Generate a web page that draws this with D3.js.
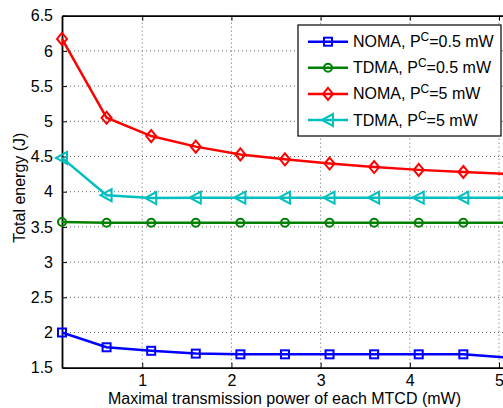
<!DOCTYPE html>
<html>
<head>
<meta charset="utf-8">
<script src="https://cdn.jsdelivr.net/npm/d3@7"></script>
<style>
  body { margin: 0; background: #fff; }
  svg { display: block; font-family: "Liberation Sans", Arial, sans-serif; }
</style>
</head>
<body>
<div id="chart"></div>
<script>

// x values (mW) - last one sits just past the visible edge
var xVals = [0.1, 0.6, 1.1, 1.6, 2.1, 2.6, 3.1, 3.6, 4.1, 4.6, 5.1];

var nomaLow  = [2.00, 1.79, 1.74, 1.70, 1.69, 1.69, 1.69, 1.69, 1.69, 1.69, 1.645];
var tdmaLow  = [3.57, 3.56, 3.56, 3.56, 3.56, 3.56, 3.56, 3.56, 3.56, 3.56, 3.56];
var nomaHigh = [6.17, 5.05, 4.79, 4.64, 4.53, 4.46, 4.40, 4.35, 4.31, 4.28, 4.25];
var tdmaHigh = [4.48, 3.95, 3.91, 3.915, 3.915, 3.915, 3.915, 3.915, 3.915, 3.915, 3.915];

var seriesNames = ["NOMA, P|C|=0.5 mW", "TDMA, P|C|=0.5 mW", "NOMA, P|C|=5 mW", "TDMA, P|C|=5 mW"];
var seriesColors = ["#0000ff", "#008000", "#ff0000", "#00bfbf"];
var seriesMarkers = ["square", "circle", "diamond", "triangle"];

var yTicks = [1.5, 2, 2.5, 3, 3.5, 4, 4.5, 5, 5.5, 6, 6.5];
var xTicks = [1, 2, 3, 4, 5];

var allSeries = [nomaLow, tdmaLow, nomaHigh, tdmaHigh];

//====================================================================================

var W = 503, H = 408;
var plotLeft = 62, plotTop = 15.7, plotBottom = 367.7;
var unit = (499 - 62) / 4.9;

var x = d3.scaleLinear().domain([0.1, 5.1]).range([plotLeft, plotLeft + 5 * unit]);
var y = d3.scaleLinear().domain([1.5, 6.5]).range([plotBottom, plotTop]);

var svg = d3.select("#chart").append("svg")
    .attr("width", W)
    .attr("height", H);

// grid
var grid = svg.append("g");
yTicks.slice(1, -1).forEach(function(t){
  grid.append("line")
    .attr("x1", x(0.1)).attr("x2", x(5.1))
    .attr("y1", y(t)).attr("y2", y(t))
    .attr("stroke", "#666").attr("stroke-width", 1)
    .attr("stroke-dasharray", "1,3");
});
xTicks.forEach(function(t){
  grid.append("line")
    .attr("x1", x(t)).attr("x2", x(t))
    .attr("y1", y(1.5)).attr("y2", y(6.5))
    .attr("stroke", "#666").attr("stroke-width", 1)
    .attr("stroke-dasharray", "1,3");
});

// axes
var yAxis = d3.axisLeft(y).tickValues(yTicks).tickSizeInner(-5).tickSizeOuter(0).tickPadding(9)
    .tickFormat(function(d){ return d3.format("")(d); });
var gy = svg.append("g").attr("transform", "translate(" + plotLeft + ",0)").call(yAxis);

var xAxis = d3.axisBottom(x).tickValues(xTicks).tickSizeInner(-5).tickSizeOuter(0).tickPadding(7)
    .tickFormat(d3.format("d"));
var gx = svg.append("g").attr("transform", "translate(0," + plotBottom + ")").call(xAxis);

// top ticks
var gt = svg.append("g").attr("transform", "translate(0," + plotTop + ")")
    .call(d3.axisTop(x).tickValues(xTicks).tickSizeInner(-5).tickSizeOuter(0).tickFormat(""));

[gx, gy, gt].forEach(function(g){
  g.select(".domain").attr("stroke", "#000").attr("stroke-width", 1.8);
  g.selectAll(".tick line").attr("stroke", "#000").attr("stroke-width", 1);
  g.selectAll("text").attr("font-size", 16).attr("fill", "#000")
    .attr("font-family", "Liberation Sans, Arial, sans-serif");
});

// lines
var line = d3.line()
    .x(function(d, i){ return x(xVals[i]); })
    .y(function(d){ return y(d); });

function drawMarker(g, kind, cx, cy, color){
  if (kind === "square") {
    g.append("rect").attr("x", cx - 4).attr("y", cy - 4).attr("width", 8).attr("height", 8)
      .attr("fill", "none").attr("stroke", color).attr("stroke-width", 2);
  } else if (kind === "circle") {
    g.append("circle").attr("cx", cx).attr("cy", cy).attr("r", 4)
      .attr("fill", "none").attr("stroke", color).attr("stroke-width", 2);
  } else if (kind === "diamond") {
    g.append("path").attr("d", "M" + cx + "," + (cy - 6) + "L" + (cx + 5) + "," + cy +
        "L" + cx + "," + (cy + 6) + "L" + (cx - 5) + "," + cy + "Z")
      .attr("fill", "none").attr("stroke", color).attr("stroke-width", 2);
  } else {
    g.append("path").attr("d", "M" + (cx - 6) + "," + cy + "L" + (cx + 5) + "," + (cy - 6) +
        "L" + (cx + 5) + "," + (cy + 6) + "Z")
      .attr("fill", "none").attr("stroke", color).attr("stroke-width", 2);
  }
}

allSeries.forEach(function(vals, s){
  var g = svg.append("g");
  g.append("path").datum(vals)
    .attr("d", line)
    .attr("fill", "none")
    .attr("stroke", seriesColors[s])
    .attr("stroke-width", 2.5);
  vals.forEach(function(v, i){
    drawMarker(g, seriesMarkers[s], x(xVals[i]), y(v), seriesColors[s]);
  });
});

// legend
var lg = svg.append("g");
lg.append("rect").attr("x", 298).attr("y", 25).attr("width", 203).attr("height", 111)
  .attr("fill", "#fff").attr("stroke", "#000").attr("stroke-width", 1.2);

seriesNames.forEach(function(name, s){
  var ry = 41.7 + s * 26.1;
  lg.append("line").attr("x1", 308).attr("x2", 348).attr("y1", ry).attr("y2", ry)
    .attr("stroke", seriesColors[s]).attr("stroke-width", 2.5);
  drawMarker(lg, seriesMarkers[s], 328, ry, seriesColors[s]);
  var parts = name.split("|");
  var t = lg.append("text").attr("x", 353).attr("y", ry + 5.5)
    .attr("font-size", 16).attr("fill", "#000");
  t.append("tspan").text(parts[0]);
  t.append("tspan").attr("font-size", 12).attr("dy", -6).text(parts[1]);
  t.append("tspan").attr("dy", 6).text(parts[2]);
});

// axis labels
svg.append("text")
  .attr("x", (62 + 499) / 2 + 4).attr("y", 404)
  .attr("text-anchor", "middle").attr("font-size", 16).attr("fill", "#000")
  .text("Maximal transmission power of each MTCD (mW)");

svg.append("text")
  .attr("transform", "translate(25," + ((plotTop + plotBottom) / 2 - 4) + ") rotate(-90)")
  .attr("text-anchor", "middle").attr("font-size", 16).attr("fill", "#000")
  .text("Total energy (J)");

</script>
</body>
</html>
